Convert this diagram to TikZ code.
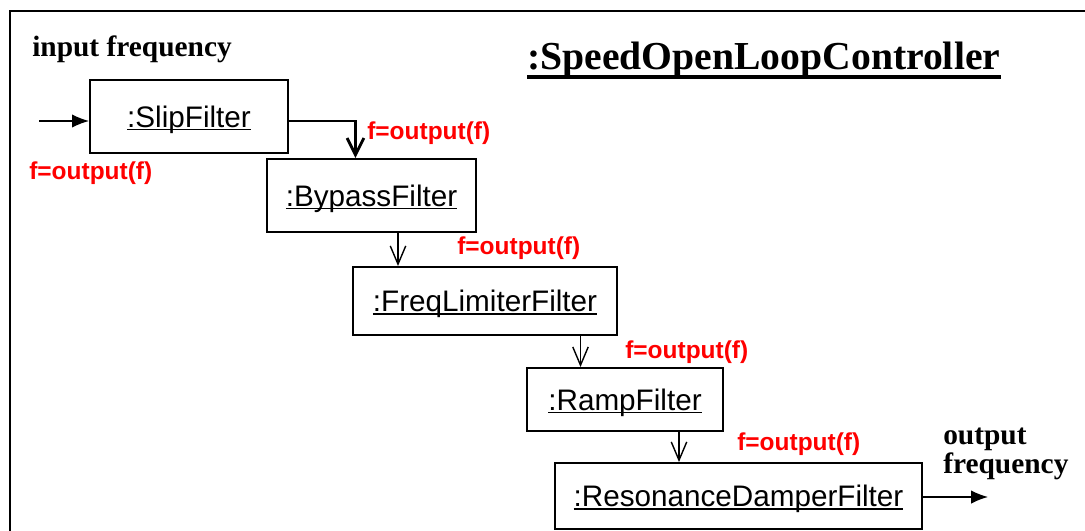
\documentclass[tikz,border=0pt]{standalone}
\usepackage{fontspec}
\setmainfont{Liberation Serif}
\setsansfont{Liberation Sans}
\usepackage{tikz}
\usetikzlibrary{arrows}
\usetikzlibrary{arrows.meta}
\usetikzlibrary{calc}

%% object name, underlined close to the baseline
\newcommand{\objname}[1]{\setbox0=\hbox{#1}\rlap{\rule[-2.3pt]{\wd0}{0.9pt}}\box0}

\tikzset{
  filt/.style={draw, line width=1.4pt, inner sep=0pt, text height=0.55cm, text depth=0.025cm, font=\sffamily\fontsize{21.1}{24}\selectfont},
  outf/.style={red, inner sep=0pt, anchor=base west, font=\sffamily\bfseries\fontsize{17.4}{20}\selectfont},
  lbl/.style={inner sep=0pt, anchor=base west, align=left, font=\bfseries\fontsize{20.9}{20.5}\selectfont},
  flow/.style={line width=1pt, -{Straight Barb[length=13pt,width=11pt]}},
  io/.style={line width=1pt, -{Latex[length=12pt,width=9.5pt]}}
}

\begin{document}
\begin{tikzpicture}[x=0.025cm,y=-0.025cm]
\useasboundingbox (0,0) rectangle (1085,531);
%% outer frame, cut off at right and bottom
\draw[line width=1.8pt] (1085,11) -- (10,11) -- (10,531);
\node[lbl] (infreq) at (32,57) {input frequency};
\node[lbl, font=\bfseries\fontsize{28.2}{30}\selectfont] (title) at (527,70) {:SpeedOpenLoopController};
\draw[line width=2.4pt] ($(title.base west)+(0,7)$) -- ($(title.base east)+(0,7)$);

%% filters
\node[filt, minimum width=4.95cm, minimum height=1.825cm] (slip) at (189,116.5) {\objname{:SlipFilter}};
\node[filt, minimum width=5.2cm, minimum height=1.825cm] (bypass) at (371.5,195.5) {\objname{:BypassFilter}};
\node[filt, minimum width=6.6cm, minimum height=1.7cm] (freq) at (485,301) {\objname{:FreqLimiterFilter}};
\node[filt, minimum width=4.9cm, minimum height=1.575cm] (ramp) at (625,399.5) {\objname{:RampFilter}};
\node[filt, minimum width=9.175cm, minimum height=1.65cm] (reso) at (738.5,496) {\objname{:ResonanceDamperFilter}};

%% f=output(f) labels
\node[outf] (f1) at (29,180) {f=output(f)};
\node[outf] (f2) at (367,140) {f=output(f)};
\node[outf] (f3) at (457,254) {f=output(f)};
\node[outf] (f4) at (625,358) {f=output(f)};
\node[outf] (f5) at (737,450) {f=output(f)};
\node[lbl] (outfreq) at (943,473) {output\\frequency};

%% connectors
\coordinate (in) at (39,121);
\coordinate (out) at (988,497);
\draw[io] (in) -- (slip.west |- in);
\draw[line width=2pt, -{Straight Barb[length=12pt,width=12pt]}] (slip.east |- in) -| ($(bypass.north west)+(89,0)$);
\coordinate (b1) at ($(bypass.south)+(26.5,0)$);
\draw[flow] (b1) -- (b1 |- freq.north);
\coordinate (b2) at ($(freq.south)+(95.5,0)$);
\draw[flow] (b2) -- (b2 |- ramp.north);
\coordinate (b3) at ($(ramp.south)+(54,0)$);
\draw[flow] (b3) -- (b3 |- reso.north);
\draw[io] (reso.east |- out) -- (out);
\end{tikzpicture}
\end{document}
